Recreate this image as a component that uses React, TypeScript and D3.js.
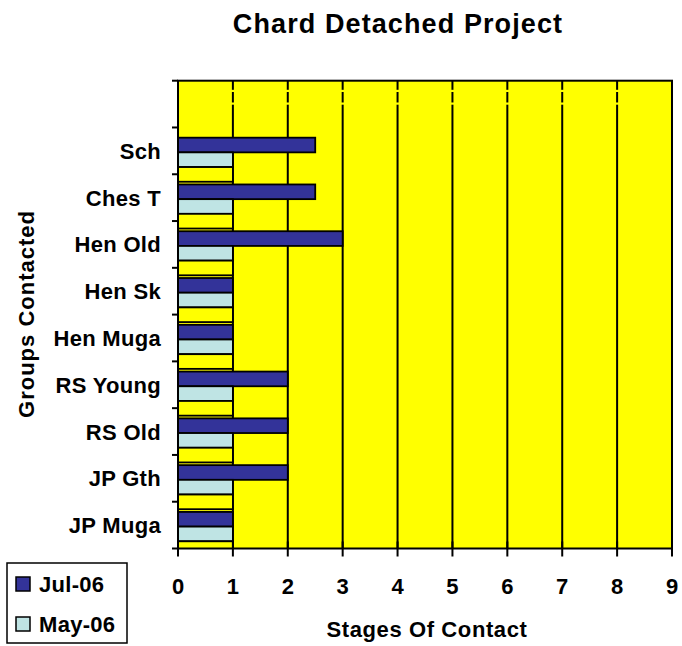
import React from "react";
import * as d3 from "d3";

const categories = ["", "Sch", "Ches T", "Hen Old", "Hen Sk", "Hen Muga", "RS Young", "RS Old", "JP Gth", "JP Muga"];
const julValues = [null, 2.5, 2.5, 3, 1, 1, 2, 2, 2, 1];
const mayValues = [null, 1, 1, 1, 1, 1, 1, 1, 1, 1];
const baseValues = [null, 1, 1, 1, 1, 1, 1, 1, 1, 1];
const blankRowValues = [9, null, null, null, null, null, null, null, null, null];
const xTicks = [0, 1, 2, 3, 4, 5, 6, 7, 8, 9];
const legendItems = [
  { label: "Jul-06", color: "#333399" },
  { label: "May-06", color: "#bfe4e4" },
];

const W = 682, H = 646;
const left = 178, right = 672, top = 80.7, bottom = 548.5;
const FONT = "'Liberation Sans', Arial, sans-serif";

export default function App() {
  const x = d3.scaleLinear().domain([0, 9]).range([left, right]);
  const y = d3.scaleBand<string>().domain(categories).range([top, bottom]).padding(0);
  const bw = y.bandwidth();
  const barH = bw * 0.314;
  const off = bw * 0.218;

  const series = [
    { values: julValues, fill: "#333399", slot: 0 },
    { values: mayValues, fill: "#bfe4e4", slot: 1 },
    { values: baseValues, fill: "#ffff00", slot: 2 },
  ];

  const boundaries = categories.map((c) => y(c) as number).concat([bottom]);

  return (
    <svg width={W} height={H} style={{ position: "absolute", left: 0, top: 0, background: "#fff" }} fontFamily={FONT}>
      <defs>
        <clipPath id="plotClip">
          <rect x={left} y={top} width={right - left} height={bottom - top} />
        </clipPath>
      </defs>
      <text x={398} y={33} textAnchor="middle" fontSize={27} fontWeight="bold" letterSpacing={1.1}>Chard Detached Project</text>

      <rect x={left} y={top} width={right - left} height={bottom - top} fill="#ffff00" />
      {xTicks.slice(1, -1).map((t) => (
        <line key={t} x1={x(t)} x2={x(t)} y1={top} y2={bottom} stroke="#000" strokeWidth={2} />
      ))}

      <g clipPath="url(#plotClip)">
        {series.map((s) =>
          s.values.map((v, i) =>
            v == null ? null : (
              <rect
                key={`${s.slot}-${i}`}
                x={x(0)}
                y={(y(categories[i]) as number) + off + s.slot * barH}
                width={x(v) - x(0)}
                height={barH}
                fill={s.fill}
                stroke="#000"
                strokeWidth={1.8}
              />
            )
          )
        )}
        {blankRowValues.map((v, i) =>
          v == null ? null : (
            <rect
              key={`blank-${i}`}
              x={x(0)}
              y={(y(categories[i]) as number) + off}
              width={x(v) - x(0)}
              height={barH - 2}
              fill="none"
              stroke="#ffff00"
              strokeWidth={2.2}
            />
          )
        )}
      </g>

      <rect x={left} y={top} width={right - left} height={bottom - top} fill="none" stroke="#000" strokeWidth={2} />

      {boundaries.map((b, i) => (
        <line key={i} x1={left - 6} x2={left} y1={b} y2={b} stroke="#000" strokeWidth={2} />
      ))}
      {xTicks.map((t) => (
        <line key={t} x1={x(t)} x2={x(t)} y1={bottom - 7} y2={bottom + 8} stroke="#000" strokeWidth={2} />
      ))}

      {categories.map((c) => (
        <text key={c} x={161} y={(y(c) as number) + bw / 2 + 8} textAnchor="end" fontSize={22} fontWeight="bold" letterSpacing={0.3}>{c}</text>
      ))}
      {xTicks.map((t) => (
        <text key={t} x={x(t)} y={594} textAnchor="middle" fontSize={22} fontWeight="bold">{t}</text>
      ))}
      <text x={427} y={637} textAnchor="middle" fontSize={22} fontWeight="bold" letterSpacing={0.6}>Stages Of Contact</text>
      <text transform="translate(34,314) rotate(-90)" textAnchor="middle" fontSize={22} fontWeight="bold" letterSpacing={1}>Groups Contacted</text>

      <rect x={7} y={563} width={120} height={80} fill="#fff" stroke="#000" strokeWidth={1.5} />
      {legendItems.map((it, i) => (
        <g key={it.label}>
          <rect x={16} y={577 + i * 40} width={14} height={14} fill={it.color} stroke="#000" strokeWidth={1.5} />
          <text x={39} y={592 + i * 40} fontSize={22} fontWeight="bold" letterSpacing={0.3}>{it.label}</text>
        </g>
      ))}
    </svg>
  );
}
